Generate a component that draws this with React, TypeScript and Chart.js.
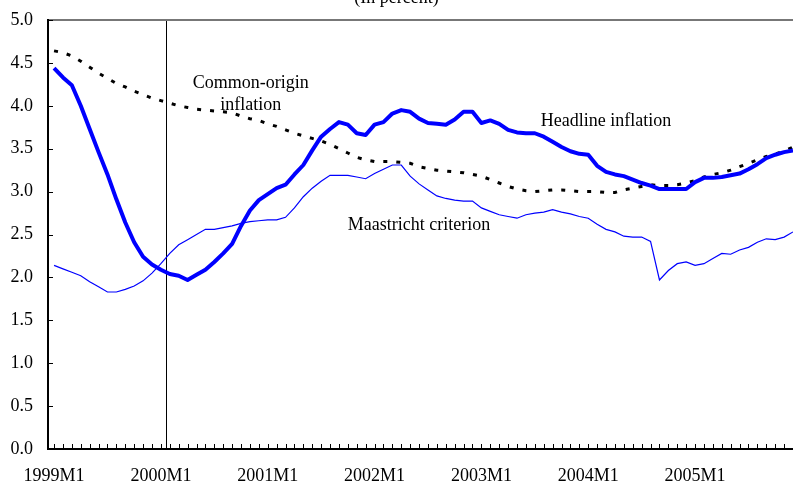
import React, { useEffect, useRef } from "react";
import { Chart, registerables } from "chart.js";

Chart.register(...registerables);

// ---- data ----
const years = [1999, 2000, 2001, 2002, 2003, 2004, 2005];
const months: string[] = [];
years.forEach((y) => {
  for (let m = 1; m <= 12; m++) months.push(`${y}M${m}`);
});

const headline = [
  4.44, 4.33, 4.24, 4.0, 3.73, 3.46, 3.2, 2.91, 2.64, 2.41, 2.24, 2.15,
  2.09, 2.04, 2.02, 1.97, 2.03, 2.09, 2.18, 2.28, 2.39, 2.6, 2.78, 2.9,
  2.97, 3.04, 3.08, 3.2, 3.31, 3.48, 3.64, 3.73, 3.81, 3.78, 3.68, 3.66,
  3.78, 3.81, 3.91, 3.95, 3.93, 3.85, 3.8, 3.79, 3.78, 3.84, 3.93, 3.93,
  3.8, 3.83, 3.79, 3.72, 3.69, 3.68, 3.68, 3.64, 3.58, 3.52, 3.47, 3.44,
  3.43, 3.3, 3.23, 3.2, 3.18, 3.14, 3.1, 3.07, 3.03, 3.03, 3.03, 3.03,
  3.11, 3.16, 3.16, 3.17, 3.19, 3.21, 3.26, 3.32, 3.39, 3.43, 3.46, 3.48,
];

const commonOrigin = [
  4.64, 4.62, 4.58, 4.52, 4.45, 4.38, 4.32, 4.26, 4.22, 4.17, 4.13, 4.09,
  4.06, 4.03, 4.0, 3.98, 3.96, 3.95, 3.94, 3.93, 3.92, 3.88, 3.85, 3.83,
  3.79, 3.76, 3.72, 3.68, 3.65, 3.62, 3.59, 3.55, 3.5, 3.45, 3.4, 3.37,
  3.35, 3.35, 3.35, 3.34, 3.33, 3.29, 3.27, 3.25, 3.24, 3.23, 3.22, 3.2,
  3.18, 3.14, 3.1, 3.06, 3.03, 3.01, 3.0, 3.01, 3.02, 3.02, 3.01, 3.0,
  3.0, 3.0, 2.99, 2.99, 3.02, 3.04, 3.06, 3.08, 3.07, 3.07, 3.08, 3.1,
  3.13, 3.17, 3.2, 3.22, 3.25, 3.29, 3.33, 3.37, 3.41, 3.44, 3.47, 3.52,
];

const maastricht = [
  2.14, 2.1, 2.06, 2.02, 1.95, 1.89, 1.83, 1.83, 1.86, 1.9, 1.96, 2.05,
  2.16, 2.28, 2.38, 2.44, 2.5, 2.56, 2.56, 2.58, 2.6, 2.63, 2.65, 2.66,
  2.67, 2.67, 2.7, 2.81, 2.94, 3.04, 3.12, 3.19, 3.19, 3.19, 3.17, 3.15,
  3.21, 3.26, 3.31, 3.31, 3.18, 3.09, 3.02, 2.95, 2.92, 2.9, 2.89, 2.89,
  2.81, 2.77, 2.73, 2.71, 2.69, 2.73, 2.75, 2.76, 2.79, 2.76, 2.74, 2.71,
  2.69, 2.62, 2.56, 2.53, 2.48, 2.47, 2.47, 2.42, 1.97, 2.08, 2.16, 2.18,
  2.14, 2.16, 2.22, 2.28, 2.27, 2.32, 2.35, 2.41, 2.45, 2.44, 2.47, 2.53,
];

const xLabelIndices = [0, 12, 24, 36, 48, 60, 72];
const yTicks = [0, 0.5, 1, 1.5, 2, 2.5, 3, 3.5, 4, 4.5, 5];
const markerIndex = 12.55; // vertical marker near 2000M1
const titleText = "(In percent)";

const annotations = [
  { text: "Common-origin", x: 22.1, y: 4.21 },
  { text: "inflation", x: 22.1, y: 3.95 },
  { text: "Headline inflation", x: 62.0, y: 3.76 },
  { text: "Maastricht criterion", x: 41.0, y: 2.55 },
];

const FONT = "'Liberation Serif', 'Times New Roman', serif";

const toPoints = (arr: number[]) => arr.map((v, i) => ({ x: i, y: v }));

const decorPlugin = {
  id: "decor",
  beforeDatasetsDraw(chart: any) {
    const { ctx, chartArea, scales } = chart;
    const x = scales.x.getPixelForValue(markerIndex);
    ctx.save();
    ctx.strokeStyle = "#000";
    ctx.lineWidth = 1;
    ctx.beginPath();
    ctx.moveTo(Math.round(x) + 0.5, chartArea.top);
    ctx.lineTo(Math.round(x) + 0.5, chartArea.bottom);
    ctx.stroke();
    ctx.restore();
  },
  afterDatasetsDraw(chart: any) {
    const { ctx, chartArea, scales, width } = chart;
    const { left, right, top, bottom } = chartArea;
    ctx.save();
    // top border (gray)
    ctx.strokeStyle = "#777";
    ctx.lineWidth = 2;
    ctx.beginPath();
    ctx.moveTo(left, top);
    ctx.lineTo(right, top);
    ctx.stroke();
    // axes
    ctx.strokeStyle = "#000";
    ctx.lineWidth = 2;
    ctx.beginPath();
    ctx.moveTo(left, top - 1);
    ctx.lineTo(left, bottom);
    ctx.lineTo(right, bottom);
    ctx.stroke();
    // x ticks (inward, every month)
    ctx.lineWidth = 1;
    ctx.beginPath();
    for (let i = 0; i < months.length; i++) {
      const px = Math.round(scales.x.getPixelForValue(i)) + 0.5;
      ctx.moveTo(px, bottom);
      ctx.lineTo(px, bottom - 5);
    }
    // y ticks (inward)
    yTicks.forEach((v) => {
      const py = Math.round(scales.y.getPixelForValue(v)) + 0.5;
      ctx.moveTo(left, py);
      ctx.lineTo(left + 5, py);
    });
    ctx.stroke();
    // annotations
    ctx.fillStyle = "#000";
    ctx.font = `18px ${FONT}`;
    ctx.textAlign = "center";
    ctx.textBaseline = "alphabetic";
    annotations.forEach((a) => {
      ctx.fillText(
        a.text,
        scales.x.getPixelForValue(a.x),
        scales.y.getPixelForValue(a.y)
      );
    });
    // title (cut off at top)
    ctx.fillText(titleText, width / 2, 3);
    ctx.restore();
  },
};

export default function App() {
  const ref = useRef<HTMLCanvasElement | null>(null);

  useEffect(() => {
    document.body.style.margin = "0";
    const canvas = ref.current;
    if (!canvas) return;
    const chart = new Chart(canvas, {
      type: "line",
      data: {
        datasets: [
          {
            label: "Headline inflation",
            data: toPoints(headline),
            borderColor: "#0000ff",
            borderWidth: 4,
            pointRadius: 0,
            tension: 0,
            borderJoinStyle: "round",
          },
          {
            label: "Common-origin inflation",
            data: toPoints(commonOrigin),
            borderColor: "#000000",
            borderWidth: 3,
            borderDash: [4, 9],
            pointRadius: 0,
            tension: 0,
          },
          {
            label: "Maastricht criterion",
            data: toPoints(maastricht),
            borderColor: "#0000ff",
            borderWidth: 1.2,
            pointRadius: 0,
            tension: 0,
          },
        ],
      },
      options: {
        animation: false,
        responsive: false,
        layout: { padding: { top: 20, left: 0, right: 0, bottom: 0 } },
        plugins: {
          legend: { display: false },
          tooltip: { enabled: false },
        },
        scales: {
          x: {
            type: "linear",
            min: -0.68,
            max: 83,
            grid: { display: false, drawTicks: false },
            border: { display: false },
            afterBuildTicks: (scale: any) => {
              scale.ticks = xLabelIndices.map((v) => ({ value: v }));
            },
            afterFit: (scale: any) => {
              scale.height = 36;
              scale.paddingLeft = 0;
              scale.paddingRight = 0;
            },
            ticks: {
              autoSkip: false,
              maxRotation: 0,
              padding: 16,
              color: "#000",
              font: { family: FONT, size: 18 },
              callback: (v: any) => months[Math.round(Number(v))] ?? "",
            },
          },
          y: {
            min: 0,
            max: 5,
            grid: { display: false, drawTicks: false },
            border: { display: false },
            afterBuildTicks: (scale: any) => {
              scale.ticks = yTicks.map((v) => ({ value: v }));
            },
            afterFit: (scale: any) => {
              scale.width = 48;
              scale.paddingTop = 0;
              scale.paddingBottom = 0;
            },
            ticks: {
              padding: 15,
              color: "#000",
              font: { family: FONT, size: 18 },
              callback: (v: any) => Number(v).toFixed(1),
            },
          },
        },
      },
      plugins: [decorPlugin],
    } as any);
    return () => chart.destroy();
  }, []);

  return (
    <div style={{ width: 793, height: 485 }}>
      <canvas ref={ref} width={793} height={485} style={{ display: "block" }} />
    </div>
  );
}
